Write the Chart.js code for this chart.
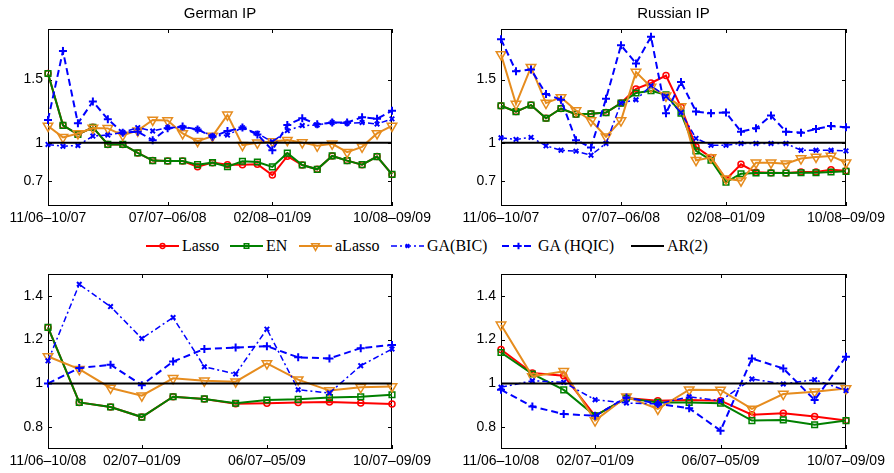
<!DOCTYPE html>
<html>
<head>
<meta charset="utf-8">
<script src="https://cdn.jsdelivr.net/npm/chart.js@4/dist/chart.umd.min.js"></script>
<style>
  body { margin: 0; width: 894px; height: 473px; background: #fff; position: relative; overflow: hidden; }
  canvas.panel { position: absolute; }
  #legend { position: absolute; left: 0; top: 237px; width: 894px; height: 18px;
            font-family: 'Liberation Serif', 'Times New Roman', serif; font-size: 16px; color: #000; }
  .item { position: absolute; top: 0; height: 18px; display: flex; align-items: center; white-space: nowrap; }
  .item canvas { margin-right: 3px; flex: none; }
</style>
</head>
<body>
<canvas class="panel" id="germanTop" width="440" height="228" style="left:0;top:0"></canvas>
<canvas class="panel" id="russianTop" width="441" height="228" style="left:453px;top:0"></canvas>
<canvas class="panel" id="germanBottom" width="440" height="213" style="left:0;top:258px"></canvas>
<canvas class="panel" id="russianBottom" width="441" height="213" style="left:453px;top:258px"></canvas>
<div id="legend"></div>
<script>
// rolling windows, 12-month (top row) and 24-month (bottom row)
const windows12 = ['11/06–10/07', '12/06–11/07', '01/07–12/07', '02/07–01/08', '03/07–02/08', '04/07–03/08',
  '05/07–04/08', '06/07–05/08', '07/07–06/08', '08/07–07/08', '09/07–08/08', '10/07–09/08',
  '11/07–10/08', '12/07–11/08', '01/08–12/08', '02/08–01/09', '03/08–02/09', '04/08–03/09',
  '05/08–04/09', '06/08–05/09', '07/08–06/09', '08/08–07/09', '09/08–08/09', '10/08–09/09'];
const windows24 = ['11/06–10/08', '12/06–11/08', '01/07–12/08', '02/07–01/09', '03/07–02/09', '04/07–03/09',
  '05/07–04/09', '06/07–05/09', '07/07–06/09', '08/07–07/09', '09/07–08/09', '10/07–09/09'];
const ticks12 = [0, 8, 15, 23];
const ticks24 = [0, 3, 7, 11];
const yTicksTop = [0.7, 1, 1.5];
const yTicksBottom = [0.8, 1, 1.2, 1.4];

// relative MSFE, German IP, 12-month windows
const germanLasso12 = [1.548, 1.138, 1.066, 1.122, 0.987, 0.987, 0.920, 0.859, 0.856, 0.856, 0.810, 0.843,
  0.827, 0.827, 0.830, 0.745, 0.894, 0.824, 0.790, 0.896, 0.859, 0.827, 0.891, 0.750];
const germanEN12 = [1.548, 1.138, 1.066, 1.122, 0.987, 0.987, 0.920, 0.859, 0.856, 0.856, 0.827, 0.843,
  0.811, 0.854, 0.848, 0.809, 0.918, 0.824, 0.790, 0.896, 0.859, 0.827, 0.891, 0.750];
const germanALasso12 = [1.133, 1.043, 1.074, 1.117, 1.114, 1.061, 1.096, 1.181, 1.176, 1.074, 1.013, 1.053,
  1.221, 0.981, 1.000, 1.011, 1.021, 1.003, 0.976, 0.992, 0.926, 0.968, 1.074, 1.133];
const germanBIC12 = [0.987, 0.973, 0.979, 1.053, 1.061, 1.082, 1.120, 1.093, 1.120, 1.122, 1.106, 1.053,
  1.061, 1.120, 1.074, 1.008, 1.096, 1.136, 1.141, 1.160, 1.154, 1.160, 1.149, 1.189];
const germanHQIC12 = [1.181, 1.726, 1.154, 1.327, 1.186, 1.080, 1.088, 1.021, 1.114, 1.128, 1.106, 1.048,
  1.093, 1.120, 1.066, 0.941, 1.141, 1.194, 1.146, 1.160, 1.160, 1.202, 1.191, 1.253];

// relative MSFE, Russian IP, 12-month windows
const russianLasso12 = [1.293, 1.247, 1.298, 1.194, 1.271, 1.226, 1.229, 1.239, 1.314, 1.426, 1.473, 1.532,
  1.282, 0.968, 0.883, 0.710, 0.830, 0.766, 0.763, 0.761, 0.769, 0.769, 0.787, 0.779];
const russianEN12 = [1.293, 1.247, 1.298, 1.194, 1.271, 1.226, 1.229, 1.239, 1.314, 1.394, 1.412, 1.380,
  1.234, 0.936, 0.862, 0.689, 0.755, 0.761, 0.761, 0.761, 0.763, 0.763, 0.769, 0.774];
const russianALasso12 = [1.699, 1.306, 1.598, 1.314, 1.359, 1.255, 1.176, 1.048, 1.176, 1.559, 1.441, 1.372,
  1.287, 0.862, 0.883, 0.715, 0.700, 0.843, 0.843, 0.835, 0.875, 0.888, 0.896, 0.843];
const russianBIC12 = [1.040, 1.027, 1.043, 0.976, 0.941, 0.934, 0.902, 0.995, 1.314, 1.340, 1.452, 1.367,
  1.239, 1.035, 0.981, 0.981, 0.995, 0.995, 0.995, 0.995, 0.941, 0.941, 0.941, 0.936];
const russianHQIC12 = [1.819, 1.566, 1.580, 1.386, 1.340, 1.021, 0.963, 1.348, 1.771, 1.628, 1.838, 1.234,
  1.481, 1.247, 1.234, 1.239, 1.088, 1.114, 1.215, 1.088, 1.080, 1.109, 1.133, 1.122];

// relative MSFE, 24-month windows
const germanLasso24 = [1.256, 0.913, 0.892, 0.846, 0.939, 0.929, 0.907, 0.909, 0.913, 0.915, 0.910, 0.906];
const germanEN24 = [1.256, 0.913, 0.892, 0.846, 0.939, 0.929, 0.909, 0.924, 0.927, 0.935, 0.939, 0.948];
const germanALasso24 = [1.123, 1.065, 0.979, 0.944, 1.023, 1.012, 1.008, 1.091, 1.017, 0.967, 0.982, 0.986];
const germanBIC24 = [1.103, 1.453, 1.351, 1.205, 1.301, 1.076, 1.043, 1.248, 0.971, 0.956, 1.081, 1.157];
const germanHQIC24 = [1.000, 1.070, 1.085, 0.992, 1.100, 1.157, 1.164, 1.170, 1.119, 1.114, 1.161, 1.176];

const russianLasso24 = [1.155, 1.047, 1.035, 0.852, 0.933, 0.921, 0.924, 0.921, 0.857, 0.863, 0.849, 0.830];
const russianEN24 = [1.141, 1.043, 0.970, 0.852, 0.933, 0.913, 0.913, 0.909, 0.830, 0.833, 0.811, 0.830];
const russianALasso24 = [1.268, 1.032, 1.055, 0.830, 0.939, 0.883, 0.971, 0.970, 0.883, 0.951, 0.962, 0.977];
const russianBIC24 = [0.982, 1.012, 1.005, 0.925, 0.910, 0.906, 0.939, 0.921, 1.020, 0.997, 1.017, 0.967];
const russianHQIC24 = [0.971, 0.894, 0.860, 0.852, 0.936, 0.906, 0.886, 0.784, 1.114, 1.068, 0.924, 1.122];

// AR(2) benchmark
const ar12 = [1, 1, 1, 1, 1, 1, 1, 1, 1, 1, 1, 1, 1, 1, 1, 1, 1, 1, 1, 1, 1, 1, 1, 1];
const ar24 = [1, 1, 1, 1, 1, 1, 1, 1, 1, 1, 1, 1];

const seriesStyle = [
  { label: 'Lasso', color: '#ff0000', pointStyle: 'circle', radius: 3, width: 2, pointWidth: 1.5, dash: [] },
  { label: 'EN', color: '#008000', pointStyle: 'rect', radius: 4, width: 2, pointWidth: 1.5, dash: [] },
  { label: 'aLasso', color: '#e68c1e', pointStyle: 'triangle', rotation: 180, radius: 5.5, width: 2, pointWidth: 1.5, dash: [] },
  { label: 'GA(BIC)', color: '#0000ff', pointStyle: 'crossRot', radius: 3.2, width: 1.5, pointWidth: 2, dash: [6, 3, 2, 3] },
  { label: 'GA (HQIC)', color: '#0000ff', pointStyle: 'cross', radius: 4, width: 2, pointWidth: 2, dash: [7, 4] },
  { label: 'AR(2)', color: '#000000', pointStyle: false, radius: 0, width: 2, pointWidth: 0, dash: [] },
];

const sansFont = "'Liberation Sans', Arial, Helvetica, sans-serif";

// MATLAB style box with inward tick marks
const framePlugin = {
  id: 'frame',
  beforeDatasetsDraw(chart) {
    const { ctx, chartArea: a, scales: { x, y } } = chart;
    ctx.save();
    ctx.strokeStyle = '#000';
    ctx.lineWidth = 1;
    ctx.beginPath();
    y.ticks.forEach(t => {
      const py = Math.round(y.getPixelForValue(t.value)) + 0.5;
      ctx.moveTo(a.left, py); ctx.lineTo(a.left + 4, py);
      ctx.moveTo(a.right, py); ctx.lineTo(a.right - 4, py);
    });
    x.ticks.forEach(t => {
      const px = Math.round(x.getPixelForValue(t.value)) + 0.5;
      ctx.moveTo(px, a.bottom); ctx.lineTo(px, a.bottom - 4);
      ctx.moveTo(px, a.top); ctx.lineTo(px, a.top + 4);
    });
    ctx.stroke();
    ctx.strokeRect(Math.round(a.left) + 0.5, Math.round(a.top) + 0.5,
      Math.round(a.width) - 1, Math.round(a.height) - 1);
    ctx.restore();
  }
};

function makePanel(id, title, labels, xTicks, yTicks, yMin, yMax, series) {
  const datasets = series.map((values, i) => {
    const s = seriesStyle[i];
    return {
      label: s.label,
      data: values,
      borderColor: s.color,
      borderWidth: s.width,
      borderDash: s.dash,
      pointStyle: s.pointStyle,
      pointRadius: s.radius,
      pointRotation: s.rotation || 0,
      pointBorderColor: s.color,
      pointBackgroundColor: 'rgba(255,255,255,0)',
      pointBorderWidth: s.pointWidth,
      tension: 0,
      fill: false,
      clip: false,
      order: series.length - i
    };
  });

  return new Chart(document.getElementById(id), {
    type: 'line',
    data: { labels: labels, datasets: datasets },
    options: {
      responsive: false,
      devicePixelRatio: 1,
      animation: false,
      layout: { padding: { top: title ? 0 : 16, right: 48, bottom: 0, left: 0 } },
      plugins: {
        legend: { display: false },
        tooltip: { enabled: false },
        title: {
          display: !!title,
          text: title,
          fullSize: false,
          color: '#000',
          font: { family: sansFont, size: 15, weight: 'normal' },
          padding: { top: 5, bottom: 6 }
        }
      },
      scales: {
        x: {
          type: 'category',
          offset: false,
          grid: { display: false, drawTicks: false },
          border: { display: false },
          ticks: {
            autoSkip: false,
            maxRotation: 0,
            padding: 4,
            color: '#000',
            font: { family: sansFont, size: 14 }
          },
          afterBuildTicks: axis => {
            axis.ticks = axis.ticks.filter(t => xTicks.includes(t.value));
          },
          afterFit: axis => { axis.height = 22; }
        },
        y: {
          min: yMin,
          max: yMax,
          grid: { display: false, drawTicks: false },
          border: { display: false },
          ticks: {
            padding: 5,
            color: '#000',
            font: { family: sansFont, size: 14 },
            callback: v => String(v)
          },
          afterBuildTicks: axis => {
            axis.ticks = yTicks.map(v => ({ value: v }));
          },
          afterFit: axis => { axis.width = 48; }
        }
      }
    },
    plugins: [framePlugin]
  });
}

makePanel('germanTop', 'German IP', windows12, ticks12, yTicksTop, 0.5, 1.9,
  [germanLasso12, germanEN12, germanALasso12, germanBIC12, germanHQIC12, ar12]);
makePanel('russianTop', 'Russian IP', windows12, ticks12, yTicksTop, 0.5, 1.9,
  [russianLasso12, russianEN12, russianALasso12, russianBIC12, russianHQIC12, ar12]);
makePanel('germanBottom', '', windows24, ticks24, yTicksBottom, 0.7, 1.5,
  [germanLasso24, germanEN24, germanALasso24, germanBIC24, germanHQIC24, ar24]);
makePanel('russianBottom', '', windows24, ticks24, yTicksBottom, 0.7, 1.5,
  [russianLasso24, russianEN24, russianALasso24, russianBIC24, russianHQIC24, ar24]);

// shared legend row between the two rows of panels
const legendX = [146, 230, 299, 391, 502, 631];
const legend = document.getElementById('legend');
seriesStyle.forEach((s, i) => {
  const item = document.createElement('div');
  item.className = 'item';
  item.style.left = legendX[i] + 'px';
  const sym = document.createElement('canvas');
  sym.width = 33;
  sym.height = 16;
  const c = sym.getContext('2d');
  c.strokeStyle = s.color;
  c.lineWidth = s.width;
  c.setLineDash(s.dash);
  c.beginPath();
  c.moveTo(0, 8);
  c.lineTo(33, 8);
  c.stroke();
  c.setLineDash([]);
  if (s.pointStyle && Chart.helpers && Chart.helpers.drawPoint) {
    c.fillStyle = 'rgba(255,255,255,0)';
    c.lineWidth = s.pointWidth;
    Chart.helpers.drawPoint(c, {
      pointStyle: s.pointStyle, radius: s.radius * 0.8,
      rotation: s.rotation || 0, borderWidth: s.pointWidth
    }, 16.5, 8);
  }
  const text = document.createElement('span');
  text.textContent = s.label;
  item.appendChild(sym);
  item.appendChild(text);
  legend.appendChild(item);
});
</script>
</body>
</html>
